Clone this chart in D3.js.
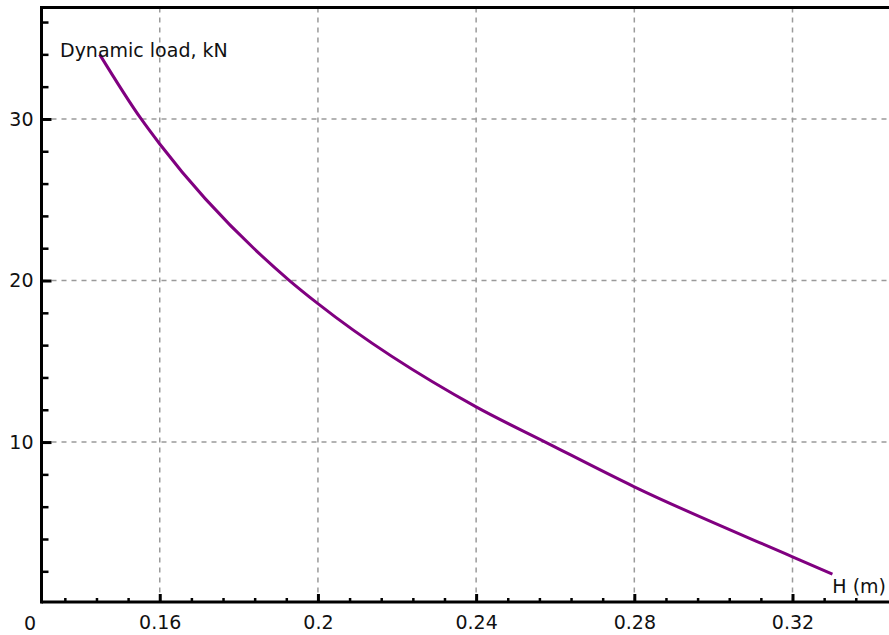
<!DOCTYPE html>
<html>
<head>
<meta charset="utf-8">
<script src="https://cdn.jsdelivr.net/npm/d3@7"></script>
<style>
  body { margin: 0; background: #fff; }
  svg { display: block; }
</style>
</head>
<body>
<script>
"use strict";

const width = 889;
const height = 635;

// Curve: H (m) -> dynamic load (kN)
const hValues = [0.1448, 0.1553, 0.16, 0.1928, 0.2, 0.24, 0.2575, 0.28, 0.32, 0.3301];
const loadValues = [34.0, 30.0, 28.45, 20.0, 18.57, 12.18, 10.0, 7.23, 2.9, 1.83];

const xMajor = [0.16, 0.2, 0.24, 0.28, 0.32];
const xMinor = [0.136, 0.144, 0.152, 0.168, 0.176, 0.184, 0.192, 0.208, 0.216, 0.224, 0.232,
  0.248, 0.256, 0.264, 0.272, 0.288, 0.296, 0.304, 0.312, 0.328, 0.336];
const yMajor = [10, 20, 30];
const yMinor = [2, 4, 6, 8, 12, 14, 16, 18, 22, 24, 26, 28, 32, 34, 36];

const plotLeft = 41.5;
const plotTop = 7.5;
const plotBottom = 602;

const x = d3.scaleLinear().domain([0.1301, 0.3444]).range([plotLeft, width]);
const y = d3.scaleLinear().domain([0.1, 36.9]).range([plotBottom, plotTop]);

const svg = d3
  .select("body")
  .append("svg")
  .attr("width", width)
  .attr("height", height)
  .style("font-family", "'DejaVu Sans', sans-serif");

// grid
svg
  .selectAll(".vgrid")
  .data(xMajor)
  .enter()
  .append("line")
  .attr("x1", (d) => x(d))
  .attr("x2", (d) => x(d))
  .attr("y1", plotTop)
  .attr("y2", plotBottom)
  .attr("stroke", "#9a9a9a")
  .attr("stroke-width", 1.5)
  .attr("stroke-dasharray", "5,5");

svg
  .selectAll(".hgrid")
  .data(yMajor)
  .enter()
  .append("line")
  .attr("x1", plotLeft)
  .attr("x2", width)
  .attr("y1", (d) => y(d))
  .attr("y2", (d) => y(d))
  .attr("stroke", "#9a9a9a")
  .attr("stroke-width", 1.5)
  .attr("stroke-dasharray", "5,5");

// curve
const line = d3
  .line()
  .x((d, i) => x(hValues[i]))
  .y((d) => y(d))
  .curve(d3.curveMonotoneX);

svg
  .append("path")
  .datum(loadValues)
  .attr("d", line)
  .attr("fill", "none")
  .attr("stroke", "#800080")
  .attr("stroke-width", 3);

// axes (ticks point inward)
const yAxisMinor = svg
  .append("g")
  .attr("transform", `translate(${plotLeft},0)`)
  .call(d3.axisLeft(y).tickValues(yMinor).tickSize(-7).tickSizeOuter(0).tickFormat(""));
const yAxis = svg
  .append("g")
  .attr("transform", `translate(${plotLeft},0)`)
  .call(d3.axisLeft(y).tickValues(yMajor).tickSize(-10).tickSizeOuter(0).tickPadding(8));
const xAxisMinor = svg
  .append("g")
  .attr("transform", `translate(0,${plotBottom})`)
  .call(d3.axisBottom(x).tickValues(xMinor).tickSize(-4).tickSizeOuter(0).tickFormat(""));
const xAxis = svg
  .append("g")
  .attr("transform", `translate(0,${plotBottom})`)
  .call(d3.axisBottom(x).tickValues(xMajor).tickSize(-8).tickSizeOuter(0).tickPadding(14).tickFormat(d3.format("")));

[yAxisMinor, yAxis, xAxisMinor, xAxis].forEach((g) => {
  g.select(".domain").remove();
  g.selectAll("line").attr("stroke", "#000").attr("stroke-width", 3);
  g.selectAll("text").attr("font-size", 19).attr("fill", "#111").attr("font-family", "'DejaVu Sans', sans-serif");
});
yAxisMinor.selectAll("line").attr("stroke-width", 2.5);
xAxisMinor.selectAll("line").attr("stroke-width", 2.5);

// frame lines
svg.append("line").attr("x1", plotLeft).attr("x2", plotLeft).attr("y1", plotTop - 1.5).attr("y2", plotBottom + 1.5)
  .attr("stroke", "#000").attr("stroke-width", 3);
svg.append("line").attr("x1", plotLeft).attr("x2", width).attr("y1", plotBottom).attr("y2", plotBottom)
  .attr("stroke", "#000").attr("stroke-width", 3);
svg.append("line").attr("x1", plotLeft).attr("x2", width).attr("y1", plotTop).attr("y2", plotTop)
  .attr("stroke", "#000").attr("stroke-width", 3);

// origin label
svg.append("text").attr("x", 30).attr("y", 630).attr("text-anchor", "middle")
  .attr("font-size", 19).attr("fill", "#111").text("0");

// axis titles
svg.append("text").attr("x", 60).attr("y", 57)
  .attr("font-size", 19).attr("fill", "#111").text("Dynamic load, kN");
svg.append("text").attr("x", 886).attr("y", 593).attr("text-anchor", "end")
  .attr("font-size", 19).attr("fill", "#111").text("H (m)");
</script>
</body>
</html>
